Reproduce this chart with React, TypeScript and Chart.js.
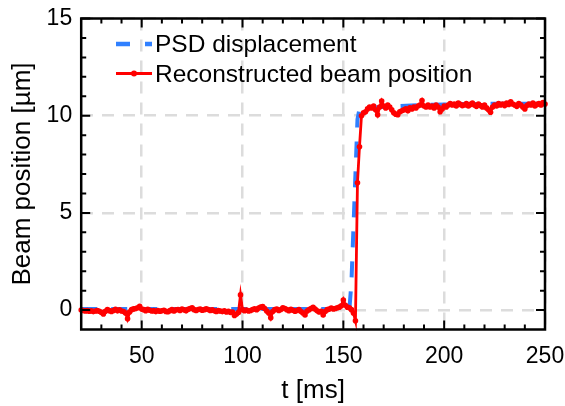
import React, { useEffect, useRef } from 'react';
import { Chart, registerables } from 'chart.js';

Chart.register(...registerables);

// Reconstructed beam position, sampled every 1 ms starting at 20 ms
const SAMPLE_START_MS = 20;
const SAMPLE_STEP_MS = 1;
const reconstructedPosition = [
  0.00, -0.02, -0.05, -0.03, -0.06, -0.04, -0.08, -0.05, -0.03, -0.06,
  -0.12, -0.20, -0.06, 0.02, -0.03, -0.07, -0.02, 0.04, -0.04, 0.01,
  -0.05, -0.08, -0.15, -0.45, -0.10, 0.02, 0.06, 0.08, 0.12, 0.20,
  0.05, 0.02, -0.03, 0.04, -0.01, -0.05, -0.03, -0.08, -0.02, -0.06,
  -0.04, -0.01, -0.07, -0.09, -0.03, 0.02, -0.05, 0.01, 0.03, -0.02,
  0.05, 0.01, -0.04, 0.04, 0.08, 0.12, 0.02, -0.02, 0.03, 0.05,
  -0.01, 0.02, 0.06, 0.03, -0.02, 0.01, -0.04, -0.07, -0.03, -0.05,
  -0.08, -0.04, -0.10, -0.06, -0.12, -0.10, -0.28, -0.20, -0.12, 0.78,
  0.02, -0.03, 0.00, -0.05, -0.02, 0.03, 0.06, 0.02, 0.10, 0.15,
  0.18, 0.08, -0.05, -0.15, -0.40, -0.08, 0.02, 0.05, -0.02, 0.03,
  0.12, 0.08, 0.02, -0.03, 0.04, -0.01, -0.06, -0.02, 0.03, -0.08,
  -0.15, -0.25, -0.05, 0.02, 0.08, 0.14, 0.05, -0.04, -0.10, -0.06,
  -0.25, -0.08, 0.02, 0.05, 0.10, 0.06, 0.08, 0.12, 0.15, 0.22,
  0.52, 0.25, 0.15, 0.12, 0.02, -0.15, -0.55, 6.55, 8.40, 10.00,
  10.15, 10.20, 10.35, 10.45, 10.40, 10.50, 10.30, 10.05, 10.45, 10.75,
  10.50, 10.40, 10.55, 10.45, 10.30, 10.15, 10.08, 10.05, 10.20, 10.25,
  10.30, 10.35, 10.25, 10.40, 10.35, 10.45, 10.40, 10.50, 10.55, 10.78,
  10.50, 10.45, 10.55, 10.45, 10.50, 10.40, 10.55, 10.45, 10.20, 10.35,
  10.50, 10.45, 10.55, 10.62, 10.55, 10.60, 10.50, 10.65, 10.58, 10.52,
  10.55, 10.62, 10.50, 10.58, 10.65, 10.55, 10.48, 10.60, 10.52, 10.45,
  10.55, 10.40, 10.30, 10.18, 10.45, 10.55, 10.50, 10.62, 10.55, 10.60,
  10.52, 10.65, 10.58, 10.72, 10.60, 10.55, 10.48, 10.62, 10.55, 10.45,
  10.35, 10.52, 10.60, 10.55, 10.65, 10.50, 10.58, 10.62, 10.55, 10.68,
  10.60,
];

// PSD displacement (dashed reference)
const psdTime = [20, 60, 100, 140, 153, 154, 155, 156, 157, 158, 165, 175, 190, 210, 230, 250];
const psdDisplacement = [0.05, 0.05, 0.05, 0.05, 0.05, 1.4, 4.2, 7.0, 9.8, 10.35, 10.42, 10.48, 10.55, 10.6, 10.62, 10.62];

const xMajorTicks = [50, 100, 150, 200, 250];
const xMinorTicks = [30, 40, 60, 70, 80, 90, 110, 120, 130, 140, 160, 170, 180, 190, 210, 220, 230, 240];
const yMajorTicks = [0, 5, 10, 15];
const yMinorTicks = [1, 2, 3, 4, 6, 7, 8, 9, 11, 12, 13, 14];

const legendLabels = ['PSD displacement', 'Reconstructed beam position'];
const xTitle = 't [ms]';
const yTitle = 'Beam position [µm]';

const RED = '#ff0000';
const BLUE = '#3080ff';
const GRID = '#dcdcdc';
const FONT = "'Liberation Sans', Arial, sans-serif";

const framePlugin = {
  id: 'frameTicksLegend',
  afterDraw(chart: any) {
    const { ctx, chartArea } = chart;
    const { left, right, top, bottom } = chartArea;
    const xs = chart.scales.x;
    const ys = chart.scales.y;
    ctx.save();
    ctx.strokeStyle = '#000';
    ctx.lineWidth = 2;
    ctx.setLineDash([]);
    const drawX = (v: number, len: number) => {
      const p = xs.getPixelForValue(v);
      ctx.beginPath();
      ctx.moveTo(p, bottom);
      ctx.lineTo(p, bottom - len);
      ctx.moveTo(p, top);
      ctx.lineTo(p, top + len);
      ctx.stroke();
    };
    const drawY = (v: number, len: number) => {
      const p = ys.getPixelForValue(v);
      ctx.beginPath();
      ctx.moveTo(left, p);
      ctx.lineTo(left + len, p);
      ctx.moveTo(right, p);
      ctx.lineTo(right - len, p);
      ctx.stroke();
    };
    xMinorTicks.forEach((v) => drawX(v, 5));
    xMajorTicks.forEach((v) => drawX(v, 9));
    yMinorTicks.forEach((v) => drawY(v, 5));
    yMajorTicks.forEach((v) => drawY(v, 9));
    ctx.lineWidth = 2.5;
    ctx.strokeRect(left, top, right - left, bottom - top);

    // legend
    const lx0 = 116;
    const lx1 = 152;
    const rows = [44, 73.5];
    ctx.lineCap = 'butt';
    ctx.strokeStyle = BLUE;
    ctx.lineWidth = 4.5;
    ctx.setLineDash([14, 15]);
    ctx.beginPath();
    ctx.moveTo(lx0, rows[0]);
    ctx.lineTo(lx1, rows[0]);
    ctx.stroke();
    ctx.setLineDash([]);
    ctx.strokeStyle = RED;
    ctx.lineWidth = 3;
    ctx.beginPath();
    ctx.moveTo(lx0, rows[1]);
    ctx.lineTo(lx1, rows[1]);
    ctx.stroke();
    ctx.fillStyle = RED;
    ctx.beginPath();
    ctx.arc((lx0 + lx1) / 2, rows[1], 3, 0, Math.PI * 2);
    ctx.fill();
    ctx.fillStyle = '#000';
    ctx.font = `24.5px ${FONT}`;
    ctx.textAlign = 'left';
    ctx.textBaseline = 'alphabetic';
    ctx.fillText(legendLabels[0], 155, 52);
    ctx.fillText(legendLabels[1], 155, 82);
    ctx.restore();
  },
};

export default function App() {
  const canvasRef = useRef<HTMLCanvasElement | null>(null);

  useEffect(() => {
    document.body.style.margin = '0';
    const canvas = canvasRef.current;
    if (!canvas) return;
    const recon = reconstructedPosition.map((v, i) => ({ x: SAMPLE_START_MS + i * SAMPLE_STEP_MS, y: v }));
    const psd = psdTime.map((t, i) => ({ x: t, y: psdDisplacement[i] }));
    const chart = new Chart(canvas, {
      type: 'line',
      data: {
        datasets: [
          {
            label: legendLabels[1],
            data: recon,
            borderColor: RED,
            backgroundColor: RED,
            borderWidth: 2.8,
            pointRadius: 2.8,
            pointBorderWidth: 0,
            pointBackgroundColor: RED,
            tension: 0,
            order: 0,
          },
          {
            label: legendLabels[0],
            data: psd,
            borderColor: BLUE,
            backgroundColor: BLUE,
            borderWidth: 4,
            borderDash: [16, 14],
            pointRadius: 0,
            tension: 0,
            order: 1,
          },
        ],
      },
      options: {
        responsive: false,
        animation: false,
        clip: 4,
        layout: { padding: { top: 18.5, right: 20, left: 0, bottom: 0 } },
        plugins: { legend: { display: false }, tooltip: { enabled: false } },
        scales: {
          x: {
            type: 'linear',
            min: 20,
            max: 250,
            afterBuildTicks: (s: any) => {
              s.ticks = xMajorTicks.map((v) => ({ value: v }));
            },
            afterFit: (s: any) => {
              s.height = 76.5;
              s.paddingLeft = 0;
              s.paddingRight = 0;
            },
            grid: { color: GRID, lineWidth: 2.5, drawTicks: false },
            border: { display: false, dash: [12, 9] },
            ticks: {
              padding: 13,
              color: '#000',
              font: { family: FONT, size: 23 },
              maxRotation: 0,
              autoSkip: false,
            },
            title: {
              display: true,
              text: xTitle,
              color: '#000',
              font: { family: FONT, size: 26 },
              padding: { top: 0, bottom: 0 },
            },
          },
          y: {
            type: 'linear',
            min: -1,
            max: 15,
            afterBuildTicks: (s: any) => {
              s.ticks = yMajorTicks.map((v) => ({ value: v }));
            },
            afterFit: (s: any) => {
              s.width = 81.2;
              s.paddingTop = 0;
              s.paddingBottom = 0;
            },
            grid: { color: GRID, lineWidth: 2.5, drawTicks: false },
            border: { display: false, dash: [12, 9] },
            ticks: {
              padding: 9,
              color: '#000',
              font: { family: FONT, size: 23 },
              autoSkip: false,
            },
            title: {
              display: true,
              text: yTitle,
              color: '#000',
              font: { family: FONT, size: 26 },
              padding: { top: 7, bottom: 0 },
            },
          },
        },
      } as any,
      plugins: [framePlugin],
    });
    return () => chart.destroy();
  }, []);

  return (
    <div style={{ width: 565, height: 406 }}>
      <canvas ref={canvasRef} width={565} height={406} style={{ display: 'block' }} />
    </div>
  );
}
